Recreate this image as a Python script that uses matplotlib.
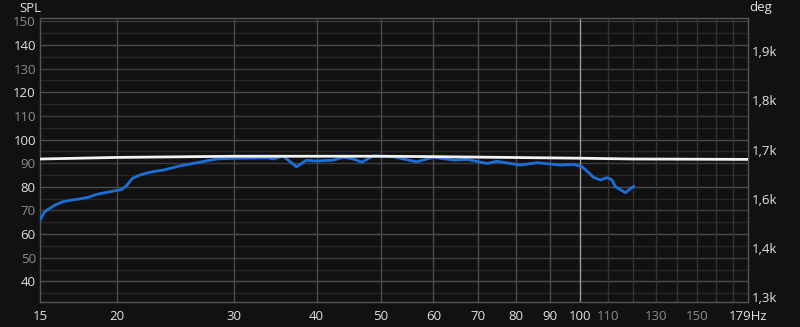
import numpy as np
import matplotlib
matplotlib.use("Agg")
import matplotlib.pyplot as plt

# measured SPL (blue) and phase (white)
freq_spl = [15.3, 15.55, 15.83, 16.2, 16.58, 17.07, 17.57, 18.1, 18.62, 19.17,
            19.73, 20.3, 20.65, 20.9, 21.1, 21.65, 22.3, 22.94, 23.5, 24.92,
            26.4, 27.3, 28.3, 29.6, 33.7, 34.4, 35.6, 37.3, 38.6, 40.0,
            42.4, 43.9, 45.4, 46.8, 48.7, 52.2, 56.6, 60.0, 64.4, 67.4,
            72.3, 74.8, 81.2, 86.0, 93.3, 97.7, 100.6, 104.7, 107.2, 109.7,
            111.6, 112.9, 116.9, 120.4]
spl = [66.0, 69.5, 70.9, 72.6, 73.7, 74.4, 74.9, 75.6, 76.8, 77.5,
       78.2, 78.8, 80.4, 82.2, 83.6, 85.0, 86.0, 86.7, 87.1, 88.9,
       90.2, 91.0, 91.8, 92.0, 92.3, 91.8, 93.0, 88.5, 91.2, 90.9,
       91.3, 92.5, 91.8, 90.4, 93.1, 92.7, 90.6, 92.5, 91.3, 91.6,
       89.9, 90.8, 89.2, 90.2, 89.2, 89.5, 88.5, 84.0, 82.9, 83.9,
       82.9, 80.1, 77.5, 80.3]
freq_phase = [15.3, 20, 30, 50, 60, 100, 120, 179]
phase = [1651, 1655, 1658, 1658, 1657, 1653, 1651, 1650]

x_ticks = [15.3, 20, 30, 40, 50, 60, 70, 80, 90, 100, 110, 130, 150, 179]
x_labels = ["15", "20", "30", "40", "50", "60", "70", "80", "90", "100",
            "110", "130", "150", "179Hz"]
x_dim = ["110", "130", "150"]
x_grid = [20, 30, 40, 50, 60, 70, 80, 90, 110, 120, 130, 140, 150, 160, 170]
y_ticks = [40, 50, 60, 70, 80, 90, 100, 110, 120, 130, 140, 150]
deg_ticks = [1300, 1425, 1550, 1675, 1800, 1925]
deg_labels = ["1,3k", "1,4k", "1,6k", "1,7k", "1,8k", "1,9k"]

BG = "#111111"
BRIGHT = "#e2e2e2"
DIM = "#8c8c8c"
plt.rcParams["font.family"] = ["Open Sans", "DejaVu Sans"]

fig = plt.figure(figsize=(8, 3.27), dpi=100, facecolor=BG)
ax = fig.add_axes([0.05, 0.0765, 0.885, 0.8685])
ax.set_facecolor(BG)
ax.set_xscale("log")
ax.set_xlim(15.3, 179)
ax.set_ylim(31.3, 151.4)

# grid
for y in np.arange(35, 151, 5):
    if y % 20 == 0:
        c = "#4c4c4c"
    elif y % 10 == 0:
        c = "#3c3c3c"
    else:
        c = "#282828"
    ax.axhline(y, color=c, lw=1, zorder=1)
for x in x_grid:
    c = "#4a4a4a" if x < 100 else "#333333"
    ax.axvline(x, color=c, lw=1, zorder=1)
ax.axvline(100, color="#9a9a9a", lw=1, zorder=1)

for s in ax.spines.values():
    s.set_color("#555555")
    s.set_linewidth(1)

ax.set_xticks(x_ticks)
ax.set_xticklabels(x_labels)
ax.minorticks_off()
ax.set_yticks(y_ticks)
ax.tick_params(axis="both", length=0, labelsize=9.5, colors=BRIGHT)
ax.tick_params(axis="x", pad=6)
ax.tick_params(axis="y", pad=3)
for lbl in ax.get_xticklabels():
    lbl.set_color(DIM if lbl.get_text() in x_dim else BRIGHT)
for lbl in ax.get_yticklabels():
    v = int(lbl.get_text().replace("\u2212", "-"))
    lbl.set_color(BRIGHT if v % 20 == 0 else DIM)

ax.plot(freq_spl, spl, color="#1c6fd8", lw=2, zorder=4,
        solid_capstyle="round", solid_joinstyle="round")

ax2 = ax.twinx()
ax2.set_ylim(1288, 2009)
ax2.set_yticks(deg_ticks)
ax2.set_yticklabels(deg_labels)
ax2.tick_params(axis="y", length=0, labelsize=9.5, colors=BRIGHT, pad=3)
for s in ax2.spines.values():
    s.set_visible(False)
ax2.plot(freq_phase, phase, color="#f2f2f2", lw=2, zorder=3)

fig.text(0.024, 0.973, "SPL", color=BRIGHT, fontsize=9.5, va="center", ha="left")
fig.text(0.937, 0.976, "deg", color=BRIGHT, fontsize=9.5, va="center", ha="left")

fig.savefig("out.png", dpi=100, facecolor=BG)
